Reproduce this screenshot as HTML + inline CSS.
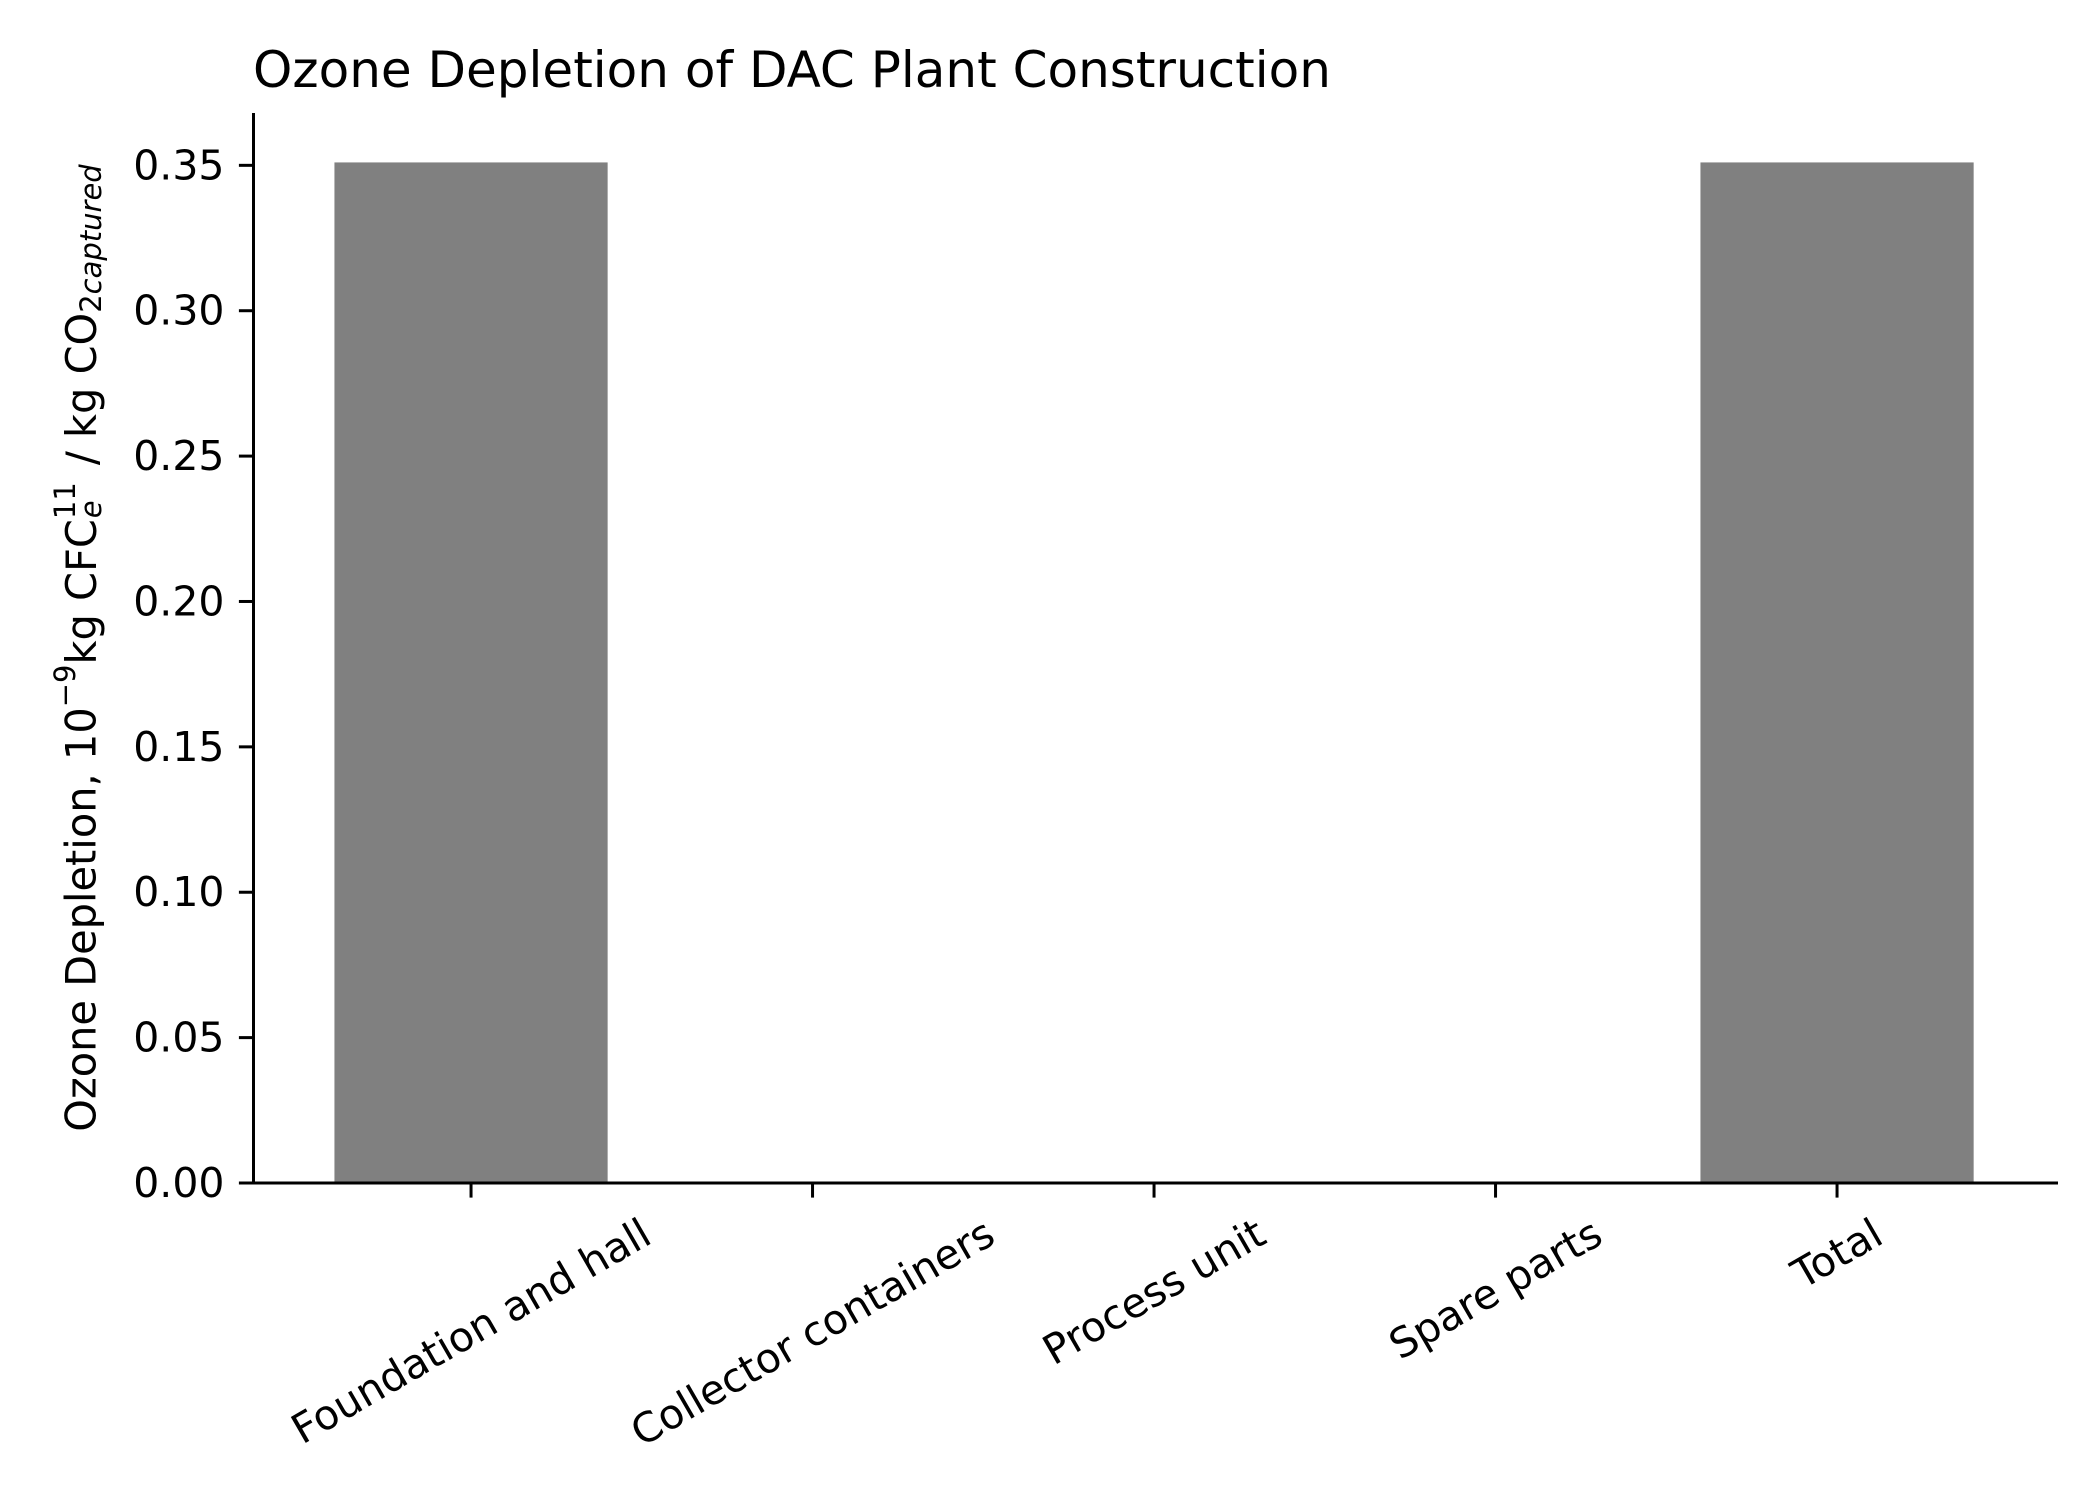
<!DOCTYPE html>
<html><head><meta charset="utf-8"><style>
html,body{margin:0;padding:0;background:#fff;}
svg{display:block;font-family:"DejaVu Sans","Liberation Sans",sans-serif;}
</style></head><body>
<svg id="chart" width="2100" height="1500" viewBox="0 0 2100 1500" xmlns="http://www.w3.org/2000/svg">
<rect width="2100" height="1500" fill="#fff"/>
<text x="253" y="87" font-size="50" fill="#000">Ozone Depletion of DAC Plant Construction</text>
<text transform="translate(81,648) rotate(-90)" text-anchor="middle" dominant-baseline="central" font-size="41.5" fill="#000">Ozone Depletion, 10<tspan font-size="29" dy="-16">−9</tspan><tspan dy="16">kg CFC</tspan><tspan font-size="29" dy="-16">11</tspan><tspan font-size="29" font-style="italic" dx="-36" dy="26">e</tspan><tspan dx="22" dy="-10"> / kg CO</tspan><tspan font-size="29" dy="10">2</tspan><tspan font-size="29" font-style="italic">captured</tspan></text>
<g id="bars"></g>
<g id="axes"></g>
</svg>
<script>
const categories = ["Foundation and hall","Collector containers","Process unit","Spare parts","Total"];
const values = [0.351, 0, 0, 0, 0.351];
const yTicks = [0, 0.05, 0.10, 0.15, 0.20, 0.25, 0.30, 0.35];
const yTickLabels = ["0.00","0.05","0.10","0.15","0.20","0.25","0.30","0.35"];

const L=253.5,R=2058,T=113,B=1183;
const xMin=-0.637,xMax=4.647,yMin=0,yMax=0.368;
const NS="http://www.w3.org/2000/svg";
function xs(v){return L+(v-xMin)/(xMax-xMin)*(R-L);}
function ys(v){return B-(v-yMin)/(yMax-yMin)*(B-T);}
function mk(tag,attrs,parent){const e=document.createElementNS(NS,tag);for(const k in attrs)e.setAttribute(k,attrs[k]);parent.appendChild(e);return e;}
const bars=document.getElementById('bars'),axes=document.getElementById('axes');
values.forEach((v,i)=>{
  const r=mk('rect',{x:xs(i-0.4),y:ys(v),width:xs(i+0.4)-xs(i-0.4),height:Math.max(0,ys(0)-ys(v)),fill:'#808080'},bars);
  
  
});
const ya=mk('line',{x1:L,y1:T,x2:L,y2:B,stroke:'#000','stroke-width':3},axes);


const xa=mk('line',{x1:L,y1:B,x2:R,y2:B,stroke:'#000','stroke-width':3},axes);


yTicks.forEach((t,i)=>{
  const y=ys(t);
  const tk=mk('line',{x1:L-14.6,y1:y,x2:L,y2:y,stroke:'#000','stroke-width':3},axes);
  
  
  const tx=mk('text',{x:L-29,y:y,'text-anchor':'end','dominant-baseline':'central','font-size':41,fill:'#000'},axes);
  tx.textContent=yTickLabels[i];
  
  
});
categories.forEach((c,i)=>{
  const x=xs(i);
  const tk=mk('line',{x1:x,y1:B,x2:x,y2:B+14.6,stroke:'#000','stroke-width':3},axes);
  
  
  const tx=mk('text',{'text-anchor':'middle','dominant-baseline':'central','font-size':41,fill:'#000'},axes);
  tx.textContent=c;
  
  
  const w=tx.getComputedTextLength(), h=48;
  const bh=w*0.5+h*0.866;
  const top=B+26;
  tx.setAttribute('transform','translate('+x+','+(top+bh/2)+') rotate(-30)');
});
</script>
</body></html>
